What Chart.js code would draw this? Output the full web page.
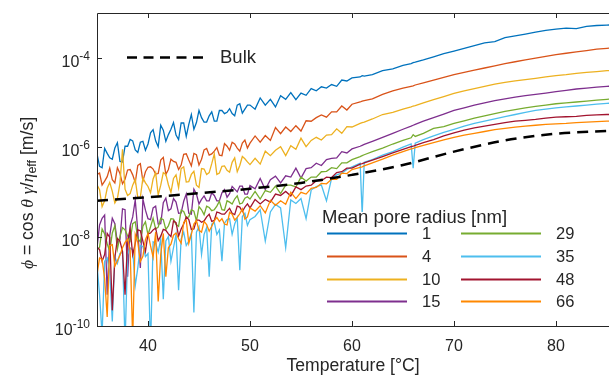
<!DOCTYPE html>
<html>
<head>
<meta charset="utf-8">
<script src="https://cdn.jsdelivr.net/npm/chart.js@4.4.1/dist/chart.umd.min.js"></script>
<style>
  html, body { margin: 0; padding: 0; background: #fff; }
  #wrap { width: 609px; height: 379px; }
</style>
</head>
<body>
<div id="wrap"><canvas id="poreChart" width="609" height="379"></canvas></div>
<script>
// temperature [°C]
const temps = [35, 35.25, 35.5, 35.75, 36, 36.25, 36.5, 36.75, 37, 37.25,
  37.5, 37.75, 38, 38.25, 38.5, 38.75, 39, 39.25, 39.5, 39.75,
  40, 40.25, 40.5, 40.75, 41, 41.25, 41.5, 41.75, 42, 42.25,
  42.5, 42.75, 43, 43.25, 43.5, 43.75, 44, 44.25, 44.5, 44.75,
  45, 45.25, 45.5, 45.75, 46, 46.25, 46.5, 46.75, 47, 47.25,
  47.5, 47.75, 48, 48.25, 48.5, 48.75, 49, 49.25, 49.5, 49.75, 50,
  50.5, 51, 51.5, 52, 52.5, 53, 53.5, 54, 54.5, 55,
  55.5, 56, 56.5, 57, 57.5, 58, 58.5, 59, 59.5, 60,
  60.8, 61, 61.2, 62, 63, 64, 65, 65.8, 66, 66.2, 67, 68, 69, 70,
  71, 72, 73, 74, 75, 76, 77, 78, 79, 80, 81, 82, 83, 84, 85, 86];

// mean pore radius [nm]
const radii = [1, 4, 10, 15, 29, 35, 48, 66];
const colors = ['#0072BD', '#D95319', '#EDB120', '#7E2F8E', '#77AC30', '#4DBEEE', '#A2142F', '#FF8800'];

// log10 of phi [m/s], one value per temperature
const logPhi1 = [-6.15, -6.43, -6.46, -6.03, -6.14, -6.24, -6.27, -6.02, -5.90, -6.32,
  -6.33, -5.98, -5.98, -5.83, -5.86, -6.06, -6.12, -5.89, -5.87, -6.07,
  -5.93, -5.68, -5.61, -5.86, -5.99, -5.51, -5.62, -5.87, -5.72, -5.60,
  -5.45, -5.73, -5.83, -5.46, -5.46, -5.76, -5.49, -5.27, -5.60, -5.45,
  -5.18, -5.34, -5.44, -5.44, -5.30, -5.21, -5.42, -5.42, -5.18, -5.18,
  -5.25, -5.22, -5.14, -5.25, -5.30, -5.06, -5.03, -5.24, -5.15, -5.06, -5.06,
  -5.15, -4.90, -5.06, -4.93, -5.10, -4.85, -4.93, -4.78, -4.94, -4.79,
  -4.84, -4.69, -4.74, -4.65, -4.68, -4.60, -4.64, -4.50, -4.52, -4.45,
  -4.43, -4.40, -4.41, -4.38, -4.29, -4.25, -4.17, -4.13, -4.11, -4.10, -4.05, -3.98, -3.91, -3.85,
  -3.79, -3.73, -3.67, -3.64, -3.55, -3.51, -3.47, -3.43, -3.39, -3.36, -3.34, -3.35, -3.30, -3.28, -3.27, -3.26];

const logPhi4 = [-6.61, -6.58, -6.85, -6.76, -6.66, -6.47, -6.73, -6.80, -6.46, -6.59,
  -6.82, -6.72, -6.51, -6.50, -6.62, -6.79, -6.41, -6.37, -6.76, -6.55,
  -6.45, -6.44, -6.49, -6.60, -6.59, -6.29, -6.23, -6.61, -6.50, -6.27,
  -6.32, -6.34, -6.50, -6.40, -6.16, -6.15, -6.29, -6.42, -6.14, -6.17,
  -6.40, -6.27, -6.06, -6.03, -6.18, -6.15, -6.09, -6.01, -6.18, -6.19,
  -5.92, -5.98, -6.07, -5.89, -5.93, -6.02, -6.09, -5.91, -5.84, -6.02, -5.91,
  -5.75, -5.89, -5.74, -5.85, -5.56, -5.70, -5.55, -5.65, -5.52, -5.64,
  -5.41, -5.42, -5.34, -5.28, -5.33, -5.21, -5.21, -5.08, -5.17, -5.04,
  -4.99, -4.97, -4.96, -4.92, -4.82, -4.74, -4.68, -4.64, -4.63, -4.61, -4.56, -4.50, -4.44, -4.38,
  -4.33, -4.28, -4.23, -4.18, -4.13, -4.09, -4.05, -4.01, -3.97, -3.93, -3.90, -3.87, -3.84, -3.81, -3.79, -3.77];

const logPhi10 = [-6.84, -6.95, -7.33, -7.20, -6.92, -6.79, -6.99, -7.25, -7.15, -6.81,
  -6.05, -6.94, -7.08, -7.04, -6.85, -6.72, -7.13, -7.12, -6.69, -6.80,
  -6.88, -7.02, -6.71, -6.57, -7.07, -6.85, -6.57, -6.61, -6.84, -7.01,
  -6.70, -6.62, -6.91, -6.48, -6.44, -6.78, -6.77, -6.61, -6.54, -6.85,
  -6.90, -6.48, -6.49, -6.61, -6.57, -6.37, -6.15, -6.61, -6.58, -6.43,
  -6.42, -6.52, -6.56, -6.34, -6.24, -6.55, -6.41, -6.21, -6.26, -6.33, -6.39,
  -6.25, -6.38, -6.09, -6.19, -6.07, -5.99, -6.19, -5.97, -6.05, -5.80,
  -5.99, -5.85, -5.78, -5.84, -5.73, -5.72, -5.59, -5.69, -5.54, -5.55,
  -5.47, -5.45, -5.44, -5.37, -5.27, -5.22, -5.15, -5.10, -5.08, -5.07, -5.01, -4.94, -4.87, -4.80,
  -4.74, -4.69, -4.64, -4.59, -4.55, -4.52, -4.49, -4.46, -4.43, -4.40, -4.38, -4.35, -4.33, -4.31, -4.29, -4.28];

const logPhi15 = [-8.26, -7.74, -7.59, -7.52, -9.30, -7.98, -7.59, -7.71, -8.14, -8.07,
  -7.38, -7.40, -8.90, -7.76, -7.56, -7.18, -7.88, -8.70, -7.16, -7.41,
  -7.60, -7.62, -7.36, -7.32, -7.72, -7.71, -7.24, -7.14, -7.42, -7.38,
  -7.15, -7.23, -7.48, -7.47, -7.21, -7.05, -7.48, -7.50, -6.94, -7.05,
  -7.27, -7.17, -7.09, -7.20, -7.20, -7.02, -7.08, -7.20, -7.20, -7.02,
  -6.95, -7.12, -7.04, -6.88, -6.94, -7.00, -6.87, -6.87, -7.05, -7.05, -6.86,
  -6.93, -6.70, -6.95, -6.73, -6.65, -6.80, -6.64, -6.67, -6.47, -6.69,
  -6.48, -6.46, -6.36, -6.41, -6.28, -6.25, -6.24, -6.10, -6.13, -6.04,
  -5.98, -5.96, -5.94, -5.87, -5.78, -5.69, -5.60, -5.53, -5.51, -5.49, -5.42, -5.34, -5.26, -5.18,
  -5.12, -5.06, -5.01, -4.96, -4.92, -4.88, -4.85, -4.82, -4.79, -4.76, -4.73, -4.70, -4.68, -4.66, -4.64, -4.63];

const logPhi29 = [-8.31, -8.24, -7.83, -7.94, -8.16, -8.33, -7.92, -7.76, -8.28, -8.00,
  -7.80, -7.85, -7.98, -8.09, -7.71, -7.67, -8.04, -8.12, -7.77, -7.67,
  -7.96, -7.78, -7.59, -7.83, -7.79, -7.59, -7.62, -7.84, -7.76, -7.60,
  -7.61, -7.73, -7.77, -7.41, -7.44, -7.58, -7.56, -7.40, -7.43, -7.65,
  -7.33, -7.40, -7.51, -7.32, -7.35, -7.42, -7.40, -7.32, -7.21, -7.40,
  -7.41, -7.20, -7.23, -7.27, -7.16, -7.09, -7.27, -7.25, -7.14, -7.11, -7.16,
  -6.99, -7.16, -6.97, -7.01, -6.87, -7.04, -6.85, -6.85, -6.89, -6.67,
  -6.76, -6.67, -6.67, -6.55, -6.54, -6.46, -6.48, -6.35, -6.35, -6.28,
  -6.21, -6.19, -6.17, -6.10, -6.02, -5.93, -5.85, -5.79, -5.72, -5.76, -5.69, -5.58, -5.54, -5.47,
  -5.41, -5.35, -5.30, -5.25, -5.20, -5.16, -5.12, -5.09, -5.06, -5.03, -5.01, -4.99, -4.97, -4.95, -4.93, -4.92];

const logPhi35 = [-8.62, -9.30, -10.2, -8.55, -8.48, -8.80, -9.90, -8.45, -8.60, -8.38,
  -8.35, -10.4, -8.40, -8.25, -8.30, -9.10, -8.70, -8.20, -8.22, -8.45,
  -8.38, -10.5, -8.12, -8.15, -8.35, -8.05, -9.40, -8.10, -8.00, -8.55,
  -8.25, -7.95, -9.20, -8.05, -7.90, -8.20, -8.10, -7.92, -9.70, -7.90,
  -7.78, -8.40, -7.95, -7.80, -8.90, -7.72, -7.68, -7.95, -7.85, -8.55,
  -7.70, -7.62, -7.60, -7.95, -7.72, -7.58, -8.75, -7.55, -7.48, -7.75, -7.62,
  -7.55, -7.40, -8.10, -7.45, -7.28, -7.36, -8.25, -7.18, -7.26, -7.15,
  -7.60, -6.96, -6.88, -6.85, -7.20, -6.70, -6.62, -6.58, -6.50, -6.44,
  -6.36, -7.50, -6.34, -6.28, -6.18, -6.10, -6.00, -5.93, -6.47, -5.91, -5.83, -5.75, -5.67, -5.60,
  -5.53, -5.47, -5.42, -5.37, -5.32, -5.27, -5.22, -5.18, -5.15, -5.12, -5.10, -5.08, -5.06, -5.04, -5.02, -5.01];

const logPhi48 = [-8.23, -8.29, -8.55, -8.40, -7.93, -8.02, -9.65, -8.48, -8.04, -8.10,
  -8.33, -9.30, -8.09, -7.83, -8.41, -8.15, -7.85, -7.87, -8.10, -8.33,
  -7.94, -7.92, -7.85, -7.81, -8.09, -7.99, -7.84, -7.86, -7.94, -8.00,
  -7.65, -7.69, -7.99, -7.83, -7.72, -7.56, -7.62, -7.84, -7.83, -7.63,
  -7.63, -7.68, -7.65, -7.56, -7.50, -7.66, -7.64, -7.45, -7.47, -7.50,
  -7.50, -7.43, -7.37, -7.48, -7.51, -7.32, -7.34, -7.44, -7.34, -7.27, -7.36,
  -7.17, -7.27, -7.17, -7.23, -7.05, -7.08, -6.99, -7.09, -6.89, -6.95,
  -6.87, -6.85, -6.75, -6.75, -6.67, -6.68, -6.57, -6.55, -6.47, -6.47,
  -6.38, -6.37, -6.35, -6.29, -6.21, -6.13, -6.05, -5.99, -5.98, -5.96, -5.90, -5.83, -5.75, -5.68,
  -5.62, -5.57, -5.53, -5.49, -5.45, -5.42, -5.40, -5.38, -5.35, -5.33, -5.32, -5.31, -5.29, -5.28, -5.27, -5.27];

const logPhi66 = [-8.85, -8.48, -8.51, -8.94, -9.80, -8.20, -8.18, -8.66, -8.54, -8.42,
  -8.25, -8.13, -8.06, -8.30, -10.3, -7.95, -8.13, -8.56, -8.44, -8.07,
  -7.93, -8.21, -8.46, -7.90, -9.45, -8.40, -7.93, -8.90, -8.25, -8.17,
  -7.97, -7.92, -8.05, -8.15, -7.68, -7.63, -8.15, -7.95, -7.72, -7.64,
  -7.86, -7.90, -7.66, -7.73, -7.88, -7.77, -7.65, -7.57, -7.66, -7.60,
  -7.72, -7.74, -7.46, -7.50, -7.63, -7.57, -7.49, -7.38, -7.61, -7.56, -7.36,
  -7.43, -7.31, -7.47, -7.19, -7.30, -7.20, -7.28, -7.01, -7.15, -7.01,
  -7.05, -6.92, -6.90, -6.81, -6.82, -6.72, -6.72, -6.58, -6.59, -6.50,
  -6.45, -6.44, -6.42, -6.35, -6.27, -6.18, -6.10, -6.04, -6.03, -6.01, -5.96, -5.90, -5.84, -5.78,
  -5.73, -5.69, -5.65, -5.61, -5.58, -5.55, -5.53, -5.51, -5.49, -5.48, -5.47, -5.45, -5.44, -5.43, -5.42, -5.41];

// bulk liquid
const bulkTemps = [35, 40, 45, 50, 55, 60, 65, 70, 75, 80, 85, 86];
const bulkLogPhi = [-7.20, -7.12, -7.03, -6.93, -6.80, -6.62, -6.40, -6.10, -5.85, -5.70, -5.64, -5.63];

// axis ticks
const xTicks = [40, 50, 60, 70, 80];
const yTickExps = [-10, -8, -6, -4];

const series = [logPhi1, logPhi4, logPhi10, logPhi15, logPhi29, logPhi35, logPhi48, logPhi66];

const SANS = "'Liberation Sans', Arial, Helvetica, sans-serif";
const SERIF = "'Liberation Serif', 'DejaVu Serif', serif";
const INK = '#262626';

const datasets = series.map(function(vals, k) {
    return {
        label: radii[k] + ' nm',
        data: temps.map((t, i) => ({ x: t, y: Math.pow(10, vals[i]) })),
        borderColor: colors[k],
        borderWidth: 1.3,
        pointRadius: 0,
        order: series.length - k
    };
});
datasets.push({
    label: 'Bulk',
    data: bulkTemps.map((t, i) => ({ x: t, y: Math.pow(10, bulkLogPhi[i]) })),
    borderColor: '#000',
    borderWidth: 2.5,
    borderDash: [11, 7],
    cubicInterpolationMode: 'monotone',
    pointRadius: 0,
    order: 0
});

// frame, ticks, y labels, y title and the two legends
const framePlugin = {
    id: 'framePlugin',
    afterDatasetsDraw(chart) {
        const ctx = chart.ctx;
        const a = chart.chartArea;
        const xs = chart.scales.x, ys = chart.scales.y;
        ctx.save();

        // legend background
        ctx.fillStyle = '#fff';
        ctx.fillRect(315, 212, 292, 100);

        // box
        ctx.strokeStyle = INK;
        ctx.lineWidth = 1;
        ctx.beginPath();
        ctx.moveTo(a.right, a.top + 0.5);
        ctx.lineTo(a.left + 0.5, a.top + 0.5);
        ctx.lineTo(a.left + 0.5, a.bottom + 0.5);
        ctx.lineTo(a.right, a.bottom + 0.5);
        xTicks.forEach(function(v) {
            const px = Math.round(xs.getPixelForValue(v)) + 0.5;
            ctx.moveTo(px, a.bottom);
            ctx.lineTo(px, a.bottom - 5);
            ctx.moveTo(px, a.top);
            ctx.lineTo(px, a.top + 5);
        });
        yTickExps.forEach(function(e) {
            const py = Math.round(ys.getPixelForValue(Math.pow(10, e))) + 0.5;
            ctx.moveTo(a.left, py);
            ctx.lineTo(a.left + 5, py);
        });
        ctx.stroke();

        // y tick labels: 10 with superscript exponent
        ctx.fillStyle = INK;
        ctx.textBaseline = 'alphabetic';
        yTickExps.forEach(function(e) {
            const py = ys.getPixelForValue(Math.pow(10, e));
            const expTxt = '-' + Math.abs(e);
            ctx.font = '12px ' + SANS;
            const we = ctx.measureText(expTxt).width;
            const right = 90;
            ctx.textAlign = 'left';
            ctx.fillText(expTxt, right - we, py + 2);
            ctx.font = '16px ' + SANS;
            ctx.textAlign = 'right';
            ctx.fillText('10', right - we, py + 9);
        });

        // y title, rotated
        const parts = [
            { t: '\u03D5', f: 'italic 17.6px ' + SERIF, dy: 0 },
            { t: ' = cos ', f: '17.6px ' + SANS, dy: 0 },
            { t: '\u03B8', f: 'italic 17.6px ' + SERIF, dy: 0 },
            { t: ' ', f: '17.6px ' + SANS, dy: 0 },
            { t: '\u03B3', f: 'italic 17.6px ' + SERIF, dy: 0 },
            { t: '/', f: '17.6px ' + SANS, dy: 0 },
            { t: '\u03B7', f: 'italic 17.6px ' + SERIF, dy: 0 },
            { t: 'eff', f: '12.5px ' + SANS, dy: 5 },
            { t: ' [m/s]', f: '17.6px ' + SANS, dy: 0 }
        ];
        let total = 0;
        parts.forEach(function(p) { ctx.font = p.f; p.w = ctx.measureText(p.t).width; total += p.w; });
        ctx.save();
        ctx.translate(28, 193);
        ctx.rotate(-Math.PI / 2);
        ctx.textAlign = 'left';
        ctx.textBaseline = 'middle';
        let cx = -total / 2;
        parts.forEach(function(p) {
            ctx.font = p.f;
            ctx.fillText(p.t, cx, p.dy);
            cx += p.w;
        });
        ctx.restore();

        // bulk legend
        ctx.strokeStyle = '#000';
        ctx.lineWidth = 2.5;
        ctx.setLineDash([10, 6.5]);
        ctx.beginPath();
        ctx.moveTo(127, 57.5);
        ctx.lineTo(204, 57.5);
        ctx.stroke();
        ctx.setLineDash([]);
        ctx.fillStyle = INK;
        ctx.font = '18.5px ' + SANS;
        ctx.textAlign = 'left';
        ctx.textBaseline = 'middle';
        ctx.fillText('Bulk', 220, 58);

        // pore radius legend
        ctx.fillText('Mean pore radius [nm]', 322, 218);
        const rowsY = [233, 256, 279, 301];
        radii.forEach(function(r, k) {
            const col = Math.floor(k / 4), row = k % 4;
            const x0 = col === 0 ? 327 : 461;
            const yy = rowsY[row] + 0.5;
            ctx.strokeStyle = colors[k];
            ctx.lineWidth = 1.8;
            ctx.beginPath();
            ctx.moveTo(x0, yy);
            ctx.lineTo(x0 + 80, yy);
            ctx.stroke();
            ctx.fillStyle = INK;
            ctx.font = '16.5px ' + SANS;
            ctx.fillText(String(r), x0 + 95, yy + 1);
        });

        ctx.restore();
    }
};

const ctx = document.getElementById('poreChart').getContext('2d');
const poreChart = new Chart(ctx, {
    type: 'line',
    data: { datasets: datasets },
    options: {
        responsive: false,
        animation: false,
        events: [],
        layout: { padding: { top: 13, right: 0, left: 0, bottom: 0 } },
        plugins: {
            legend: { display: false },
            tooltip: { enabled: false }
        },
        scales: {
            x: {
                type: 'linear',
                min: 35,
                max: 85.2,
                afterFit: function(scale) { scale.height = 53; },
                afterBuildTicks: function(scale) { scale.ticks = xTicks.map(v => ({ value: v })); },
                grid: { display: false, drawTicks: false },
                border: { display: false },
                ticks: {
                    color: INK,
                    font: { family: SANS, size: 16 },
                    padding: 11,
                    maxRotation: 0,
                    autoSkip: false
                },
                title: {
                    display: true,
                    text: 'Temperature [\u00B0C]',
                    color: INK,
                    font: { family: SANS, size: 17.6 },
                    padding: { top: 0, bottom: 2 }
                }
            },
            y: {
                type: 'logarithmic',
                min: 1e-10,
                max: 1e-3,
                afterFit: function(scale) { scale.width = 97; },
                grid: { display: false, drawTicks: false },
                border: { display: false },
                ticks: { display: false }
            }
        }
    },
    plugins: [framePlugin]
});
</script>
</body>
</html>
